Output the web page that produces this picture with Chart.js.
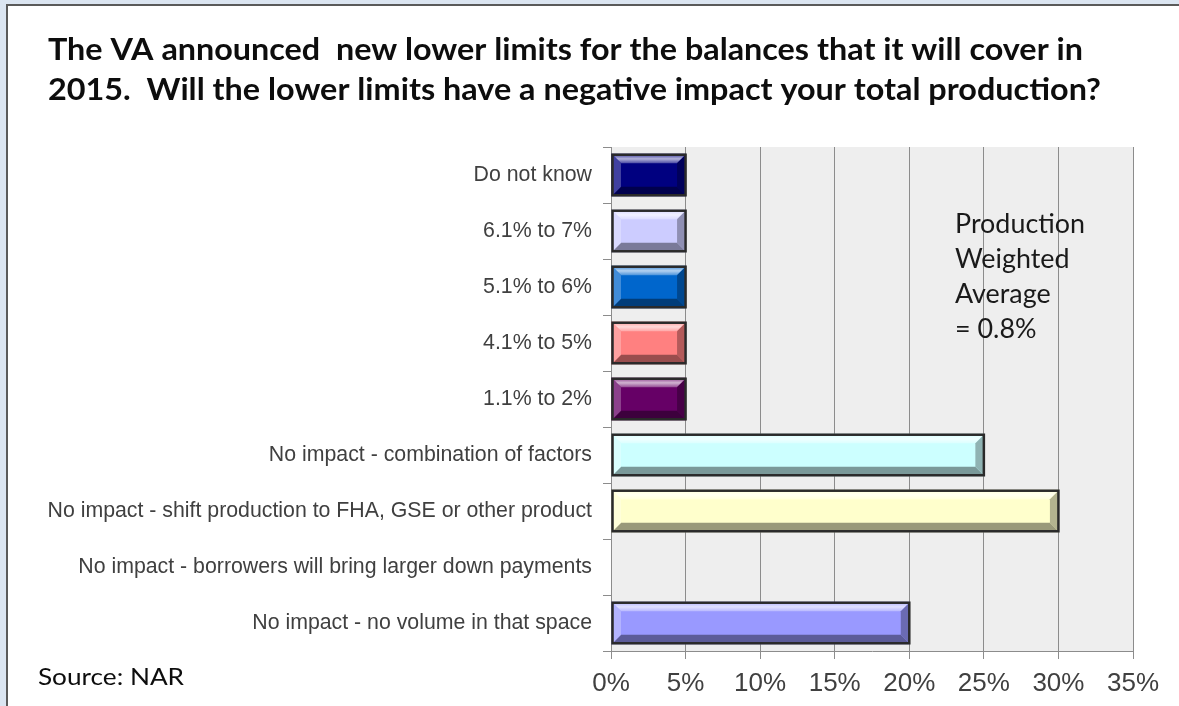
<!DOCTYPE html>
<html>
<head>
<meta charset="utf-8">
<script src="https://cdn.jsdelivr.net/npm/chart.js@4/dist/chart.umd.min.js"></script>
<style>
  html, body { margin: 0; padding: 0; background: #dbe5f1; }
  canvas { display: block; }
</style>
</head>
<body>
<canvas id="c" width="1179" height="706"></canvas>
<script>
// Survey answers, listed top to bottom
const categories = [
  'Do not know',
  '6.1% to 7%',
  '5.1% to 6%',
  '4.1% to 5%',
  '1.1% to 2%',
  'No impact - combination of factors',
  'No impact - shift production to FHA, GSE or other product',
  'No impact - borrowers will bring larger down payments',
  'No impact - no volume in that space'
];
// Share of respondents, percent
const shares = [5, 5, 5, 5, 5, 25, 30, 0, 20];
const barColors = ['#000080', '#ccccff', '#0066cc', '#ff8080', '#660066',
                   '#ccffff', '#ffffcc', '#993366', '#9999ff'];
const xTicks = [0, 5, 10, 15, 20, 25, 30, 35];

const titleLines = [
  'The VA announced  new lower limits for the balances that it will cover in',
  '2015.  Will the lower limits have a negative impact your total production?'
];
const noteLines = ['Production', 'Weighted', 'Average', '= 0.8%'];
const sourceText = 'Source: NAR';

function hexToRgb(h) {
  const n = parseInt(h.slice(1), 16);
  return [(n >> 16) & 255, (n >> 8) & 255, n & 255];
}
function mix(h, target, t) {
  const c = hexToRgb(h);
  const r = c.map(v => Math.round(v + (target - v) * t));
  return `rgb(${r[0]},${r[1]},${r[2]})`;
}

// Text drawn with a horizontal squeeze so it spans a given width
function fitText(ctx, text, x, y, width, font, color) {
  ctx.save();
  ctx.font = font;
  ctx.fillStyle = color;
  ctx.textBaseline = 'alphabetic';
  ctx.textAlign = 'left';
  const w = ctx.measureText(text).width;
  ctx.translate(x, y);
  ctx.scale(width / w, 1);
  ctx.fillText(text, 0, 0);
  ctx.restore();
}

const framePlugin = {
  id: 'frame',
  beforeDraw(chart) {
    const { ctx, chartArea: a } = chart;
    ctx.save();
    ctx.fillStyle = '#dbe5f1';
    ctx.fillRect(0, 0, chart.width, chart.height);
    ctx.fillStyle = '#ffffff';
    ctx.fillRect(7, 5, chart.width - 7, chart.height - 5);
    ctx.strokeStyle = '#5a5a5a';
    ctx.lineWidth = 2;
    ctx.beginPath();
    ctx.moveTo(7, chart.height);
    ctx.lineTo(7, 5);
    ctx.lineTo(chart.width, 5);
    ctx.stroke();
    ctx.fillStyle = '#eeeeee';
    ctx.fillRect(a.left, a.top, a.right - a.left, a.bottom - a.top);
    ctx.restore();
  },
  afterDraw(chart) {
    const ctx = chart.ctx;
    fitText(ctx, titleLines[0], 48, 60, 1035, 'bold 30px Lato', '#0d0d0d');
    fitText(ctx, titleLines[1], 48, 100, 1053, 'bold 30px Lato', '#0d0d0d');
    fitText(ctx, sourceText, 38, 685, 146, '23px Lato', '#0d0d0d');
    // note text shares one squeeze factor
    ctx.save();
    ctx.font = '26px Lato';
    const k = 130 / ctx.measureText(noteLines[0]).width;
    ctx.restore();
    noteLines.forEach((t, i) => {
      ctx.save();
      ctx.font = '26px Lato';
      const w = ctx.measureText(t).width * k;
      ctx.restore();
      fitText(ctx, t, 955, 233 + i * 35, w, '26px Lato', '#1a1a1a');
    });
  }
};

// Bevelled look on each bar, using the bar geometry from the chart
const bevelPlugin = {
  id: 'bevel',
  afterDatasetsDraw(chart) {
    const ctx = chart.ctx;
    const meta = chart.getDatasetMeta(0);
    meta.data.forEach((bar, i) => {
      const p = bar.getProps(['x', 'y', 'base', 'height'], true);
      const L = Math.min(p.base, p.x), R = Math.max(p.base, p.x) + 1;
      if (R - L < 3) return;
      const T = p.y - p.height / 2, B = p.y + p.height / 2;
      const bw = 1.5;
      const l = L + bw, r = R - bw, t = T + bw, b = B - bw;
      const d = 8;
      const col = barColors[i];
      ctx.save();
      // top band, brightening towards the middle
      const g = ctx.createLinearGradient(0, t, 0, t + d);
      g.addColorStop(0, mix(col, 255, 0.35));
      g.addColorStop(0.45, mix(col, 255, 0.7));
      g.addColorStop(1, mix(col, 255, 0.3));
      ctx.fillStyle = g;
      ctx.beginPath();
      ctx.moveTo(l, t); ctx.lineTo(r, t); ctx.lineTo(r - d, t + d); ctx.lineTo(l + d, t + d);
      ctx.closePath(); ctx.fill();
      // bottom band
      ctx.fillStyle = mix(col, 0, 0.4);
      ctx.beginPath();
      ctx.moveTo(l, b); ctx.lineTo(r, b); ctx.lineTo(r - d, b - d); ctx.lineTo(l + d, b - d);
      ctx.closePath(); ctx.fill();
      // left end
      ctx.fillStyle = mix(col, 255, 0.25);
      ctx.beginPath();
      ctx.moveTo(l, t); ctx.lineTo(l + d, t + d); ctx.lineTo(l + d, b - d); ctx.lineTo(l, b);
      ctx.closePath(); ctx.fill();
      // right end
      ctx.fillStyle = mix(col, 0, 0.3);
      ctx.beginPath();
      ctx.moveTo(r, t); ctx.lineTo(r - d, t + d); ctx.lineTo(r - d, b - d); ctx.lineTo(r, b);
      ctx.closePath(); ctx.fill();
      // outline
      ctx.strokeStyle = '#2a2a2a';
      ctx.lineWidth = 2.5;
      ctx.strokeRect(L + 1, T + 1, R - L - 2, B - T - 2);
      ctx.restore();
    });
  }
};

new Chart(document.getElementById('c'), {
  type: 'bar',
  data: {
    labels: categories,
    datasets: [{
      data: shares,
      backgroundColor: barColors,
      borderWidth: 0,
      categoryPercentage: 1,
      barPercentage: 0.76
    }]
  },
  options: {
    indexAxis: 'y',
    responsive: false,
    animation: false,
    devicePixelRatio: 1,
    layout: { padding: { top: 147, right: 46, left: 0, bottom: 0 } },
    plugins: {
      legend: { display: false },
      tooltip: { enabled: false },
      title: { display: false }
    },
    scales: {
      x: {
        min: 0,
        max: 35,
        afterBuildTicks(scale) {
          scale.ticks = xTicks.map(v => ({ value: v }));
        },
        afterFit(scale) { scale.height = 55; },
        grid: {
          color: '#8c8c8c',
          lineWidth: 1,
          drawTicks: true,
          tickLength: 8,
          tickColor: '#8c8c8c'
        },
        border: { display: true, color: '#8c8c8c', width: 1 },
        ticks: {
          callback: v => v + '%',
          color: '#404040',
          font: { family: '"Liberation Sans", Arial, sans-serif', size: 26 },
          padding: 9,
          maxRotation: 0
        }
      },
      y: {
        afterFit(scale) { scale.width = 611; },
        grid: {
          offset: true,
          drawOnChartArea: false,
          drawTicks: true,
          tickLength: 8,
          color: '#8c8c8c',
          tickColor: '#8c8c8c'
        },
        border: { display: true, color: '#8c8c8c', width: 1 },
        ticks: {
          color: '#404040',
          font: { family: '"Liberation Sans", Arial, sans-serif', size: 21.3 },
          padding: 11,
          autoSkip: false
        }
      }
    }
  },
  plugins: [framePlugin, bevelPlugin]
});
</script>
</body>
</html>
